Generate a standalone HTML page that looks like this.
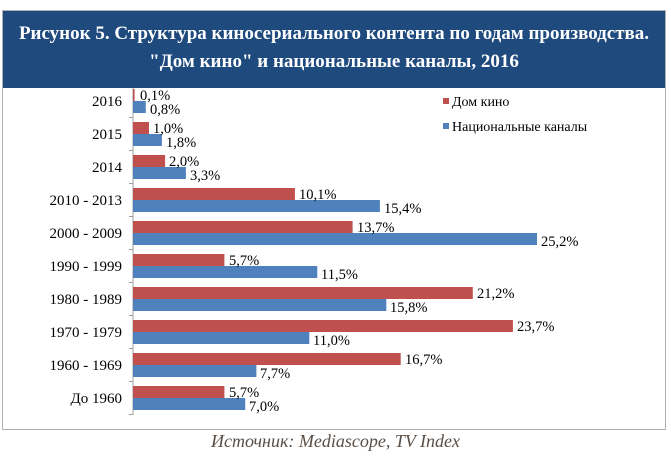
<!DOCTYPE html>
<html><head><meta charset="utf-8"><style>
body{margin:0;width:671px;height:456px;background:#fff;font-family:"Liberation Serif",serif;position:relative;overflow:hidden}
.frame{position:absolute;left:2px;top:10px;width:664px;height:420px;border:1px solid #b0b0b0;box-sizing:border-box}
.hdr{position:absolute;left:3px;top:11px;width:662px;height:77px;background:#1f4a7e;color:#fff;font-weight:bold;font-size:19px;text-align:center;line-height:28px;padding-top:9px;box-sizing:border-box;white-space:nowrap}
.src{position:absolute;left:0;width:671px;top:431px;text-align:center;font-style:italic;font-size:18px;color:#5a4f47}
</style></head><body>
<div class="frame"></div>
<div class="hdr">Рисунок 5. Структура киносериального контента по годам производства.<br>"Дом кино" и национальные каналы, 2016</div>
<svg width="671" height="456" style="position:absolute;left:0;top:0" font-family="Liberation Serif, serif" font-size="14.5">
<g stroke="#a0a0a0">
<line x1="133" y1="88" x2="133" y2="415"/>
<line x1="129" y1="117.5" x2="133" y2="117.5"/>
<line x1="129" y1="150.5" x2="133" y2="150.5"/><line x1="129" y1="183.5" x2="133" y2="183.5"/>
<line x1="129" y1="216.5" x2="133" y2="216.5"/><line x1="129" y1="249.5" x2="133" y2="249.5"/>
<line x1="129" y1="282.5" x2="133" y2="282.5"/><line x1="129" y1="315.5" x2="133" y2="315.5"/>
<line x1="129" y1="348.5" x2="133" y2="348.5"/><line x1="129" y1="381.5" x2="133" y2="381.5"/>
<line x1="129" y1="414.5" x2="133" y2="414.5"/>
</g>
<g fill="#c0504d">
<rect x="133" y="89" width="1.6" height="12"/>
<rect x="133" y="122" width="16" height="12"/>
<rect x="133" y="155" width="32.1" height="12"/>
<rect x="133" y="188" width="161.9" height="12"/>
<rect x="133" y="221" width="219.6" height="12"/>
<rect x="133" y="254" width="91.4" height="12"/>
<rect x="133" y="287" width="339.8" height="12"/>
<rect x="133" y="320" width="379.9" height="12"/>
<rect x="133" y="353" width="267.7" height="12"/>
<rect x="133" y="386" width="91.4" height="12"/>
</g>
<g fill="#4f81bd">
<rect x="133" y="101" width="12.8" height="12"/>
<rect x="133" y="134" width="28.9" height="12"/>
<rect x="133" y="167" width="52.9" height="12"/>
<rect x="133" y="200" width="246.9" height="12"/>
<rect x="133" y="233" width="404" height="12"/>
<rect x="133" y="266" width="184.3" height="12"/>
<rect x="133" y="299" width="253.3" height="12"/>
<rect x="133" y="332" width="176.3" height="12"/>
<rect x="133" y="365" width="123.4" height="12"/>
<rect x="133" y="398" width="112.2" height="12"/>
</g>
<g text-anchor="end" font-size="15">
<text x="122" y="106">2016</text><text x="122" y="139">2015</text><text x="122" y="172">2014</text>
<text x="122" y="205">2010 - 2013</text><text x="122" y="238">2000 - 2009</text><text x="122" y="271">1990 - 1999</text>
<text x="122" y="304">1980 - 1989</text><text x="122" y="337">1970 - 1979</text><text x="122" y="370">1960 - 1969</text>
<text x="122" y="403">До 1960</text>
</g>
<g>
<text x="140" y="100">0,1%</text><text x="150" y="114">0,8%</text>
<text x="153" y="133">1,0%</text><text x="166" y="147">1,8%</text>
<text x="169" y="166">2,0%</text><text x="190" y="180">3,3%</text>
<text x="299" y="199">10,1%</text><text x="384" y="213">15,4%</text>
<text x="357" y="232">13,7%</text><text x="541" y="246">25,2%</text>
<text x="229" y="265">5,7%</text><text x="321" y="279">11,5%</text>
<text x="477" y="298">21,2%</text><text x="390" y="312">15,8%</text>
<text x="517" y="331">23,7%</text><text x="313" y="345">11,0%</text>
<text x="405" y="364">16,7%</text><text x="260" y="378">7,7%</text>
<text x="229" y="397">5,7%</text><text x="249" y="411">7,0%</text>
</g>
<rect x="443" y="98" width="6" height="6" fill="#c0504d"/>
<text x="452" y="106" font-size="14">Дом кино</text>
<rect x="443" y="123" width="6" height="6" fill="#4f81bd"/>
<text x="452" y="131" font-size="14">Национальные каналы</text>
</svg>
<div class="src">Источник: Mediascope, TV Index</div>
</body></html>
